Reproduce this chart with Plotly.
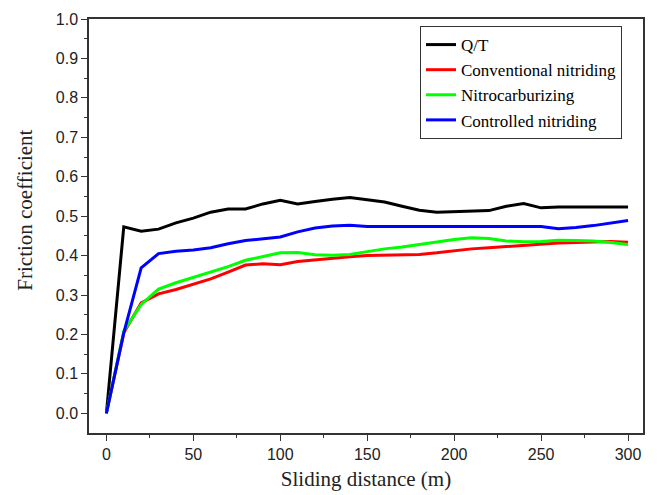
import plotly.graph_objects as go

distance = [0, 10, 20, 30, 40, 50, 60, 70, 80, 90, 100, 110, 120, 130, 140, 150,
            160, 170, 180, 190, 200, 210, 220, 230, 240, 250, 260, 270, 280, 290, 300]

qt = [0, 0.473, 0.462, 0.467, 0.483, 0.495, 0.510, 0.518, 0.518, 0.531, 0.540,
      0.531, 0.537, 0.543, 0.547, 0.542, 0.536, 0.525, 0.515, 0.510, 0.511,
      0.512, 0.514, 0.525, 0.532, 0.521, 0.523, 0.523, 0.523, 0.523, 0.523]

conventional = [0, 0.204, 0.280, 0.303, 0.314, 0.327, 0.341, 0.358, 0.376, 0.379, 0.377,
                0.385, 0.389, 0.394, 0.397, 0.400, 0.401, 0.402, 0.403, 0.407, 0.412,
                0.417, 0.420, 0.423, 0.427, 0.430, 0.432, 0.433, 0.434, 0.436, 0.434]

nitrocarb = [0, 0.208, 0.276, 0.315, 0.331, 0.344, 0.358, 0.372, 0.388, 0.398, 0.407,
             0.408, 0.402, 0.401, 0.403, 0.410, 0.417, 0.422, 0.428, 0.435, 0.441,
             0.445, 0.443, 0.437, 0.435, 0.436, 0.439, 0.438, 0.437, 0.433, 0.428]

controlled = [0, 0.204, 0.369, 0.405, 0.411, 0.414, 0.420, 0.430, 0.438, 0.442, 0.447,
              0.460, 0.470, 0.475, 0.477, 0.474, 0.474, 0.474, 0.474, 0.474, 0.474,
              0.474, 0.474, 0.474, 0.474, 0.474, 0.468, 0.471, 0.476, 0.483, 0.489]

series = [("Q/T", qt, "#000000"),
          ("Conventional nitriding", conventional, "#ff0000"),
          ("Nitrocarburizing", nitrocarb, "#00ff00"),
          ("Controlled nitriding", controlled, "#0000ff")]

fig = go.Figure()
for name, vals, col in series:
    fig.add_trace(go.Scatter(x=distance, y=vals, mode="lines", name=name,
                             line=dict(color=col, width=3)))

axis_common = dict(showline=True, linecolor="#333333", linewidth=1.5, mirror=True,
                   ticks="outside", ticklen=6, tickwidth=1.2, tickcolor="#333333",
                   showgrid=False, zeroline=False, automargin=False,
                   tickfont=dict(family="Liberation Sans", size=16, color="#222222"))

fig.update_xaxes(range=[-10, 308.6], tickvals=[0, 50, 100, 150, 200, 250, 300],
                 minor=dict(tickvals=[25, 75, 125, 175, 225, 275], ticks="outside",
                            ticklen=3, tickcolor="#333333"),
                 title=dict(text="Sliding distance (m)", standoff=9,
                            font=dict(family="Liberation Serif", size=21, color="#222222")),
                 **axis_common)
fig.update_yaxes(range=[-0.05, 1.0], tickvals=[i / 10 for i in range(11)],
                 tickformat=".1f",
                 minor=dict(tickvals=[i / 10 + 0.05 for i in range(10)], ticks="outside",
                            ticklen=3, tickcolor="#333333"),
                 **axis_common)

# y title sits a bit above the plot centre in the original, so place it by hand
fig.add_annotation(text="Friction coefficient", textangle=-90, showarrow=False,
                   xref="paper", yref="paper", x=-0.1155, y=0.537,
                   xanchor="center", yanchor="middle",
                   font=dict(family="Liberation Serif", size=21, color="#222222"))

# page body has an 8px margin, so the figure is sized to fit inside the window
fig.update_layout(
    width=650, height=487,
    margin=dict(l=81, r=15, t=11, b=62),
    plot_bgcolor="white", paper_bgcolor="white",
    legend=dict(x=0.5975, y=0.983, xanchor="left", yanchor="top",
                bordercolor="#333333", borderwidth=1, bgcolor="white",
                font=dict(family="Liberation Serif", size=17, color="#000000"),
                tracegroupgap=0),
)

fig.write_html("out.html")
